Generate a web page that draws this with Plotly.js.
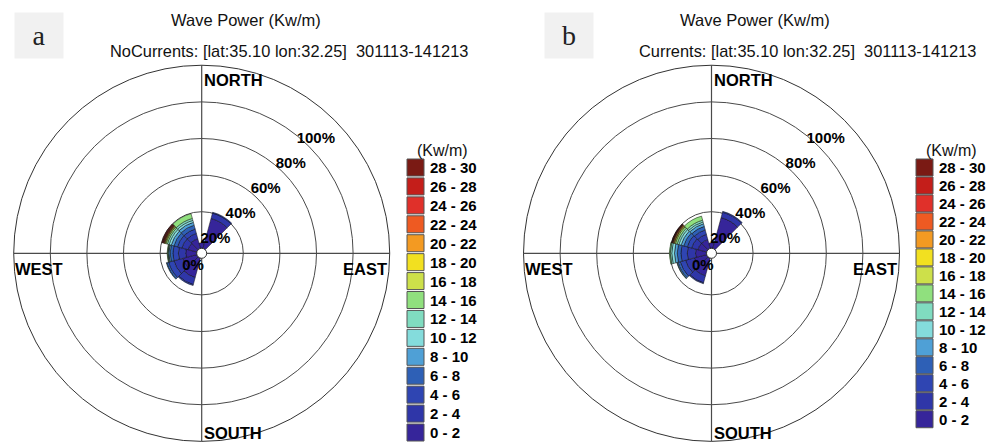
<!DOCTYPE html>
<html>
<head>
<meta charset="utf-8">
<script src="https://cdn.plot.ly/plotly-3.0.1.min.js"></script>
<style>html,body{margin:0;padding:0;background:#fff;}#chart{width:1003px;height:442px;}</style>
</head>
<body>
<div id="chart"></div>
<script>
// Direction bins (degrees, compass, clockwise from north)
const directions = [0, 30, 60, 90, 120, 150, 180, 210, 240, 270, 300, 330];
// Wave power classes (Kw/m)
const classes = ['0 - 2','2 - 4','4 - 6','6 - 8','8 - 10','10 - 12','12 - 14','14 - 16',
                 '16 - 18','18 - 20','20 - 22','22 - 24','24 - 26','26 - 28','28 - 30'];
const classColors = ['#36259a','#2f36a8','#2f45b2','#2e60b6','#4fa0d6','#84dcdc','#80dcc0','#90e07e',
                     '#cde04a','#f2e020','#f39a22','#ee5a22','#e0302a','#c41e1a','#7a1a14'];
// Frequency of occurrence (%) per class (rows) and direction (columns) – panel a (no currents)
const pctNoCurrents = [
  [3, 17, 0, 0, 0, 0, 0, 11, 8, 6, 5, 5.5],
  [0, 3, 0, 0, 0, 0, 0, 4, 5, 4, 3.5, 3],
  [0, 0.5, 0, 0, 0, 0, 0, 0.5, 3, 3, 2.5, 2.5],
  [0, 0, 0, 0, 0, 0, 0, 0, 1, 1.5, 2, 2.2],
  [0, 0, 0, 0, 0, 0, 0, 0, 0.3, 0.7, 1.5, 1.6],
  [0, 0, 0, 0, 0, 0, 0, 0, 0, 0.4, 1.2, 1.1],
  [0, 0, 0, 0, 0, 0, 0, 0, 0, 0.3, 1, 1.1],
  [0, 0, 0, 0, 0, 0, 0, 0, 0, 0.3, 0.8, 2.7],
  [0, 0, 0, 0, 0, 0, 0, 0, 0, 0, 0.5, 0],
  [0, 0, 0, 0, 0, 0, 0, 0, 0, 0, 0.3, 0],
  [0, 0, 0, 0, 0, 0, 0, 0, 0, 0, 0.3, 0],
  [0, 0, 0, 0, 0, 0, 0, 0, 0, 0, 0.3, 0],
  [0, 0, 0, 0, 0, 0, 0, 0, 0, 0, 0.3, 0],
  [0, 0, 0, 0, 0, 0, 0, 0, 0, 0, 0.3, 0],
  [0, 0, 0, 0, 0, 0, 0, 0, 0, 0, 0.4, 0]
];
// Panel b (with currents)
const pctCurrents = [
  [3, 17.5, 0, 0, 0, 0, 0, 10, 7, 6, 5, 5],
  [0, 3, 0, 0, 0, 0, 0, 4, 5, 4.5, 3.5, 3],
  [0, 0.5, 0, 0, 0, 0, 0, 0.5, 3, 3.5, 2.5, 2.5],
  [0, 0, 0, 0, 0, 0, 0, 0, 1.2, 2, 2, 2],
  [0, 0, 0, 0, 0, 0, 0, 0, 0.5, 1.5, 1.5, 1.5],
  [0, 0, 0, 0, 0, 0, 0, 0, 0.2, 1.5, 1.2, 1],
  [0, 0, 0, 0, 0, 0, 0, 0, 0, 0.8, 1, 1],
  [0, 0, 0, 0, 0, 0, 0, 0, 0, 0.5, 1, 2.3],
  [0, 0, 0, 0, 0, 0, 0, 0, 0, 0, 0.6, 0],
  [0, 0, 0, 0, 0, 0, 0, 0, 0, 0, 0.3, 0],
  [0, 0, 0, 0, 0, 0, 0, 0, 0, 0, 0.4, 0],
  [0, 0, 0, 0, 0, 0, 0, 0, 0, 0, 0.3, 0],
  [0, 0, 0, 0, 0, 0, 0, 0, 0, 0, 0.2, 0],
  [0, 0, 0, 0, 0, 0, 0, 0, 0, 0, 0.2, 0],
  [0, 0, 0, 0, 0, 0, 0, 0, 0, 0, 0.2, 0]
];
const ringTicks = [0, 20, 40, 60, 80, 100];
const ringLabels = ['0%', '20%', '40%', '60%', '80%', '100%'];
const compassLabels = ['NORTH', 'EAST', 'SOUTH', 'WEST'];
const panelTitle = 'Wave Power (Kw/m)';
const panelSubtitles = ['NoCurrents: [lat:35.10 lon:32.25] \u00a0301113-141213',
                        'Currents: [lat:35.10 lon:32.25] \u00a0301113-141213'];
const panelLetters = ['a', 'b'];
const legendHeader = '(Kw/m)';

const W = 1003, H = 442;
const FONT = 'Liberation Sans, Arial, Helvetica, sans-serif';
const px = x => x / W;
const py = y => 1 - y / H;

// panel geometry (pixels)
const panels = [
  {cx: 201.7, cy: 253.3, R: 188, data: pctNoCurrents, polar: 'polar',
   titleX: 246, subRight: 470, letterX: 39, legX: 407, legStep: 18.93},
  {cx: 711.5, cy: 253.3, R: 188, data: pctCurrents, polar: 'polar2',
   titleX: 755, subRight: 978, letterX: 569, legX: 916, legStep: 17.98}
];

const traces = [];
const annotations = [];
const shapes = [];
const layout = {
  width: W, height: H,
  margin: {l: 0, r: 0, t: 0, b: 0},
  paper_bgcolor: '#fff',
  showlegend: false,
  font: {family: FONT, color: '#000'},
};

panels.forEach((p, pi) => {
  layout[p.polar] = {
    domain: {x: [px(p.cx - p.R), px(p.cx + p.R)], y: [py(p.cy + p.R), py(p.cy - p.R)]},
    hole: 5 / p.R,
    bgcolor: '#fff',
    barmode: 'stack',
    bargap: 0,
    radialaxis: {range: [0, 100], tickvals: ringTicks.slice(1), showticklabels: false, ticks: '',
                 showline: false, gridcolor: '#4a4a4a', gridwidth: 1},
    angularaxis: {rotation: 90, direction: 'clockwise', tickvals: [0, 90, 180, 270],
                  showticklabels: false, ticks: '', gridcolor: '#4a4a4a', gridwidth: 1.2,
                  showline: true, linecolor: '#333', linewidth: 1}
  };

  classes.forEach((c, ci) => {
    traces.push({
      type: 'barpolar', subplot: p.polar, name: c,
      theta: directions, r: p.data[ci], width: 30,
      marker: {color: classColors[ci], line: {color: '#111', width: 0.5}},
      hoverinfo: 'skip'
    });
  });

  // ring percentage labels
  traces.push({
    type: 'scatterpolar', subplot: p.polar, mode: 'text',
    r: ringTicks.map(t => t === 0 ? 5.7 : 0.97 * t - 11.5),
    theta: ringTicks.map(t => t === 0 ? 214 : 45),
    text: ringLabels,
    textfont: {family: FONT, size: 15, weight: 'bold', color: '#000'},
    textposition: 'middle center',
    hoverinfo: 'skip'
  });

  // compass labels
  const cFont = {family: FONT, size: 16.5, weight: 'bold', color: '#000'};
  annotations.push({xref: 'paper', yref: 'paper', x: px(p.cx), y: py(p.cy - 173), text: compassLabels[0],
    xanchor: 'left', yanchor: 'middle', showarrow: false, font: cFont});
  annotations.push({xref: 'paper', yref: 'paper', x: px(p.cx + 187), y: py(p.cy + 15.5), text: compassLabels[1],
    xanchor: 'right', yanchor: 'middle', showarrow: false, font: cFont});
  annotations.push({xref: 'paper', yref: 'paper', x: px(p.cx), y: py(p.cy + 180), text: compassLabels[2],
    xanchor: 'left', yanchor: 'middle', showarrow: false, font: cFont});
  annotations.push({xref: 'paper', yref: 'paper', x: px(p.cx - 189), y: py(p.cy + 15.5), text: compassLabels[3],
    xanchor: 'left', yanchor: 'middle', showarrow: false, font: cFont});

  // titles
  annotations.push({xref: 'paper', yref: 'paper', x: px(p.titleX), y: py(20), text: panelTitle,
    xanchor: 'center', yanchor: 'middle', showarrow: false, font: {family: FONT, size: 16.5, color: '#111'}});
  annotations.push({xref: 'paper', yref: 'paper', x: px(p.subRight), y: py(50.5), text: panelSubtitles[pi],
    xanchor: 'right', yanchor: 'middle', showarrow: false, font: {family: FONT, size: 16.4, color: '#111'}});
  // panel letter
  annotations.push({xref: 'paper', yref: 'paper', x: px(p.letterX), y: py(35.5), text: panelLetters[pi],
    xanchor: 'center', yanchor: 'middle', showarrow: false, width: 46, height: 43, bgcolor: '#f1f1f1',
    font: {family: 'Liberation Serif, DejaVu Serif, serif', size: 28, color: '#222'}});

  // legend
  annotations.push({xref: 'paper', yref: 'paper', x: px(p.legX + 35), y: py(150), text: legendHeader,
    xanchor: 'center', yanchor: 'middle', showarrow: false, font: {family: FONT, size: 16, color: '#111'}});
  for (let k = 0; k < classes.length; k++) {
    const ci = classes.length - 1 - k;
    const y0 = 159 + k * p.legStep;
    shapes.push({type: 'rect', xref: 'paper', yref: 'paper',
      x0: px(p.legX), x1: px(p.legX + 17), y0: py(y0), y1: py(y0 + 17),
      fillcolor: classColors[ci], line: {color: '#555', width: 1}});
    annotations.push({xref: 'paper', yref: 'paper', x: px(p.legX + 21), y: py(y0 + 8.5), text: classes[ci],
      xanchor: 'left', yanchor: 'middle', showarrow: false,
      font: {family: FONT, size: 15, weight: 'bold', color: '#000'}});
  }
});

layout.annotations = annotations;
layout.shapes = shapes;

Plotly.newPlot('chart', traces, layout, {displayModeBar: false, staticPlot: true});
</script>
</body>
</html>
